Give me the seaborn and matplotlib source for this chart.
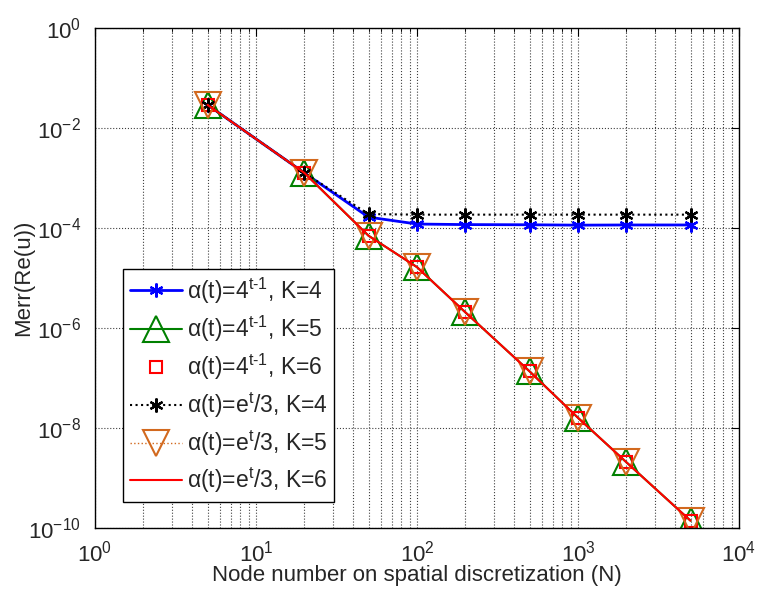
import matplotlib
matplotlib.use('Agg')
import matplotlib.pyplot as plt
import matplotlib.ticker as mticker
import numpy as np
import seaborn as sns

# node numbers N
nodes = [5, 20, 50, 100, 200, 500, 1000, 2000, 5000]

# errors
err_4t_k4 = [2.9e-2, 1.26e-3, 1.65e-4, 1.2e-4, 1.17e-4, 1.16e-4, 1.14e-4, 1.15e-4, 1.15e-4]
err_et_k4 = [2.9e-2, 1.26e-3, 1.9e-4, 1.85e-4, 1.85e-4, 1.85e-4, 1.85e-4, 1.85e-4, 1.85e-4]
err_conv = [2.9e-2, 1.26e-3, 7.0e-5, 1.65e-5, 2.05e-6, 1.36e-7, 1.6e-8, 2.06e-9, 1.4e-10]
err_4t_k5 = err_conv
err_4t_k6 = err_conv
err_et_k5 = err_conv
err_et_k6 = err_conv

labels = [r'$\alpha$(t)=4$^{\rm t\text{-}1}$, K=4',
          r'$\alpha$(t)=4$^{\rm t\text{-}1}$, K=5',
          r'$\alpha$(t)=4$^{\rm t\text{-}1}$, K=6',
          r'$\alpha$(t)=e$^{\rm t}$/3, K=4',
          r'$\alpha$(t)=e$^{\rm t}$/3, K=5',
          r'$\alpha$(t)=e$^{\rm t}$/3, K=6']

sns.set_style('white')
plt.rcParams['font.family'] = ['Liberation Sans', 'DejaVu Sans']
plt.rcParams['mathtext.fontset'] = 'custom'
plt.rcParams['mathtext.rm'] = 'Liberation Sans'
plt.rcParams['mathtext.it'] = 'Liberation Sans'
plt.rcParams['mathtext.sf'] = 'Liberation Sans'

fig = plt.figure(figsize=(7.61, 5.92), dpi=100)
ax = fig.add_axes([95/761, 1-528/592, 644/761, 500/592])

orange = '#D2691E'
asterisk = (6, 2, 0)
sns.lineplot(x=nodes, y=err_4t_k4, ax=ax, color='#0000FF', lw=2, marker=asterisk,
             markersize=10, mec='#0000FF', mew=1.6, label=labels[0])
sns.lineplot(x=nodes, y=err_4t_k5, ax=ax, color='#008000', lw=1.5, marker='^',
             markersize=19, mfc='none', mec='#008000', mew=1.5, label=labels[1])
sns.lineplot(x=nodes, y=err_4t_k6, ax=ax, color='#FF0000', lw=0, marker='s',
             markersize=9, mfc='none', mec='#FF0000', mew=1.5, label=labels[2])
sns.lineplot(x=nodes, y=err_et_k4, ax=ax, color='black', lw=1.5, ls=':', marker=asterisk,
             markersize=10, mec='black', mew=1.6, label=labels[3])
sns.lineplot(x=nodes, y=err_et_k5, ax=ax, color=orange, lw=1, ls=':', marker='v',
             markersize=19, mfc='none', mec=orange, mew=1.5, label=labels[4])
sns.lineplot(x=nodes, y=err_et_k6, ax=ax, color='#FF0000', lw=1.5, label=labels[5])

ax.set_xscale('log')
ax.set_yscale('log')
ax.set_xlim(1, 1e4)
ax.set_ylim(1e-10, 1)
ax.set_yticks([10.0**p for p in range(-10, 1, 2)])
ax.yaxis.set_minor_locator(mticker.NullLocator())
ax.xaxis.set_minor_locator(mticker.LogLocator(base=10, subs=np.arange(2, 10)))
ax.xaxis.set_minor_formatter(mticker.NullFormatter())

ax.grid(True, which='major', ls=':', color='0.25', lw=0.8)
ax.grid(True, which='minor', axis='x', ls=':', color='0.25', lw=0.8)
ax.tick_params(which='both', direction='in', top=True, right=True, labelsize=16,
               color='black')
ax.tick_params(which='major', length=6)
ax.tick_params(which='minor', length=3)
ax.tick_params(axis='x', which='major', pad=9)
ax.tick_params(axis='y', which='major', pad=10)
for s in ax.spines.values():
    s.set_color('black')
    s.set_linewidth(1)

ax.set_xlabel('Node number on spatial discretization (N)', fontsize=16, labelpad=-1)
ax.set_ylabel('Merr(Re(u))', fontsize=16, labelpad=-4)

leg = ax.legend(loc='lower left', bbox_to_anchor=(0.043, 0.052), borderaxespad=0,
                fontsize=16.5, handlelength=2.3, labelspacing=0.36, handletextpad=0.2,
                fancybox=False, framealpha=1, edgecolor='black', borderpad=0.3)
leg.get_frame().set_linewidth(1)

fig.savefig('out.png', dpi=100)
